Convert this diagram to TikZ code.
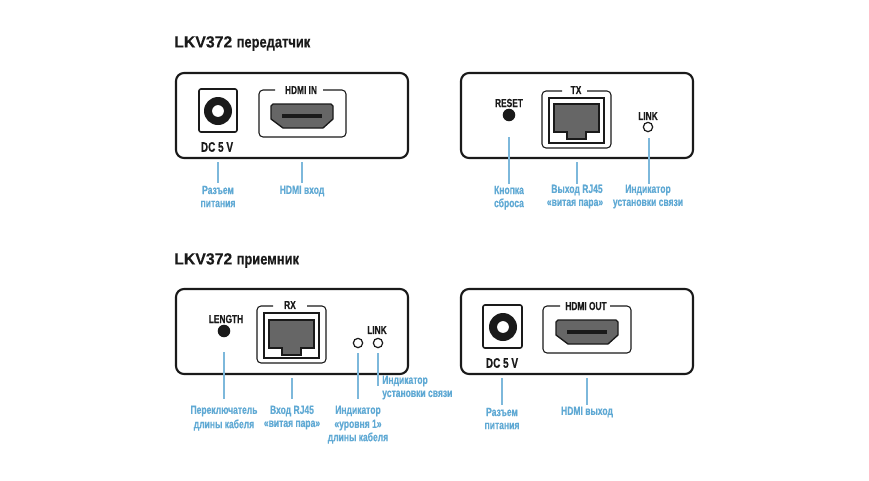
\documentclass[tikz,border=0pt]{standalone}
\usepackage{fontspec}
\setmainfont{Liberation Sans}
\newfontfamily\cnb[FakeStretch=0.72,FakeBold=0.35]{Liberation Sans Bold}
\newfontfamily\cnt[FakeStretch=0.80,FakeBold=0.35]{Liberation Sans Bold}
\newfontfamily\wid[FakeStretch=0.98,FakeBold=0.25]{Liberation Sans Bold}
\definecolor{lineblue}{HTML}{7DB8DB}
\definecolor{textblue}{HTML}{5FA9D4}
\definecolor{portgray}{HTML}{666666}
\definecolor{ink}{HTML}{1A1A1A}
\tikzset{
  panel/.style={draw=ink,line width=1.6pt,rounded corners=6pt,fill=white},
  framebox/.style={draw=ink,line width=0.8pt,rounded corners=3pt},
  jackbox/.style={draw=ink,line width=1.2pt,rounded corners=1.5pt},
  innerbox/.style={draw=ink,line width=0.8pt},
  portshape/.style={draw=ink,line width=1pt,fill=portgray},
  plabel/.style={font=\cnb\fontsize{8.7}{10}\selectfont,text=ink,inner sep=0pt,anchor=center},
  dclabel/.style={font=\cnb\fontsize{10.4}{12}\selectfont,text=ink,inner sep=0pt,anchor=center},
  callout/.style={font=\cnb\fontsize{8.9}{10}\selectfont,text=textblue,inner sep=0pt,anchor=center},
  leader/.style={draw=lineblue,line width=0.85pt},
  title/.style={text=ink,inner sep=0pt,anchor=west},
  led/.style={circle,draw=ink,line width=0.9pt,fill=white,minimum size=7pt,inner sep=0pt},
  button/.style={circle,fill=ink,minimum size=9.4pt,inner sep=0pt},
  jack/.style={circle,fill=ink,minimum size=21pt,inner sep=0pt},
  jackhole/.style={circle,fill=white,minimum size=8.8pt,inner sep=0pt}
}
\newcommand{\hdmiport}[2]{% left x, top y
  \draw[portshape,line join=round] (#1,#2+2) -- (#1+2,#2) -- (#1+60,#2) -- (#1+62,#2+2) -- (#1+62,#2+15) -- (#1+52,#2+24) -- (#1+12,#2+24) -- (#1,#2+15) -- cycle;
  \fill[ink] (#1+11,#2+10) rectangle (#1+51,#2+14);
}
\newcommand{\rjport}[2]{% left x, top y
  \draw[portshape,line width=1.2pt] (#1,#2) -- (#1+45,#2) -- (#1+45,#2+28) -- (#1+32,#2+28) -- (#1+32,#2+35) -- (#1+13,#2+35) -- (#1+13,#2+28) -- (#1,#2+28) -- cycle;
}
\newcommand{\leaderline}[4]{% name x y1 y2
  \coordinate (#1a) at (#2,#3);
  \coordinate (#1b) at (#2,#4);
  \draw[leader] (#1a) -- (#1b);
}
\begin{document}
\begin{tikzpicture}[x=0.75pt,y=-0.75pt]
\useasboundingbox (0,0) rectangle (869,480);
\fill[white] (0,0) rectangle (869,480);
% titles
\node[title] (t1) at (174,43.5) {\wid\fontsize{12.1}{14}\selectfont LKV372 \cnt\fontsize{12.1}{14}\selectfont передатчик};
\node[title] (t2) at (174,260.5) {\wid\fontsize{12.1}{14}\selectfont LKV372 \cnt\fontsize{12.1}{14}\selectfont приемник};
% panels
\draw[panel] (176,73) rectangle (408,158);
\draw[panel] (461,73) rectangle (693,158);
\draw[panel] (176,289) rectangle (408,374);
\draw[panel] (461,289) rectangle (693,374);
% panel 1
\draw[jackbox] (199,89) rectangle (237,132);
\node[jack] (j1) at (218,111) {};
\node[jackhole] (j1h) at (218,111) {};
\node[dclabel] (dc1) at (217,147) {DC 5 V};
\draw[framebox] (275,90) -- (259,90) -- (259,137) -- (346,137) -- (346,90) -- (323,90);
\node[plabel] (hi) at (301,90) {HDMI IN};
\hdmiport{271}{104}
% panel 2
\node[plabel] (rs) at (509,103) {RESET};
\node[button] (rsb) at (509,115) {};
\draw[framebox] (562,91) -- (542,91) -- (542,148) -- (611,148) -- (611,91) -- (587,91);
\draw[innerbox] (549,98) rectangle (604,143);
\node[plabel] (tx) at (576,90) {TX};
\rjport{554}{104}
\node[plabel] (lk1) at (648,116) {LINK};
\node[led] (lk1l) at (648,127) {};
% panel 3
\node[plabel] (ln) at (226,319) {LENGTH};
\node[button] (lnb) at (224,331) {};
\draw[framebox] (273,306) -- (257,306) -- (257,363) -- (326,363) -- (326,306) -- (307,306);
\draw[innerbox] (264,313) rectangle (319,358);
\node[plabel] (rx) at (290,305) {RX};
\rjport{269}{320}
\node[led] (l1) at (358,343) {};
\node[led] (l2) at (378,343) {};
\node[plabel] (lk2) at (377,330) {LINK};
% panel 4
\draw[jackbox] (483,305) rectangle (522,348);
\node[jack] (j2) at (503,327) {};
\node[jackhole] (j2h) at (503,327) {};
\node[dclabel] (dc2) at (502,363) {DC 5 V};
\draw[framebox] (560,306) -- (543,306) -- (543,353) -- (631,353) -- (631,306) -- (610,306);
\node[plabel] (ho) at (586,306) {HDMI OUT};
\hdmiport{556}{320}
% leaders
\leaderline{a}{218}{162}{183}
\leaderline{b}{302}{162}{183}
\leaderline{c}{509}{137}{184}
\leaderline{d}{577}{162}{184}
\leaderline{e}{649}{138}{184}
\leaderline{f}{224}{352}{399}
\leaderline{g}{292}{378}{399}
\leaderline{h}{358}{353}{399}
\leaderline{i}{378}{353}{386}
\leaderline{k}{502}{378}{405}
\leaderline{m}{587}{378}{405}
% callouts
\node[callout] (ca1) at (218,190) {Разъем};
\node[callout] (ca2) at (218,204) {питания};
\node[callout] (cb) at (302,191) {HDMI вход};
\node[callout] (cc1) at (509,190) {Кнопка};
\node[callout] (cc2) at (509,204) {сброса};
\node[callout] (cd1) at (577,190) {Выход RJ45};
\node[callout] (cd2) at (575,204) {«витая пара»};
\node[callout] (ce1) at (648,190) {Индикатор};
\node[callout] (ce2) at (648,204) {установки связи};
\node[callout] (cf1) at (224,411) {Переключатель};
\node[callout] (cf2) at (224,425) {длины кабеля};
\node[callout] (cg1) at (292,411) {Вход RJ45};
\node[callout] (cg2) at (292,425) {«витая пара»};
\node[callout] (ch1) at (358,411) {Индикатор};
\node[callout] (ch2) at (358,425) {«уровня 1»};
\node[callout] (ch3) at (358,438) {длины кабеля};
\node[callout,anchor=west] (ci1) at (382,381) {Индикатор};
\node[callout,anchor=west] (ci2) at (382,395) {установки связи};
\node[callout] (ck1) at (502,412) {Разъем};
\node[callout] (ck2) at (502,426) {питания};
\node[callout] (cm) at (587,412) {HDMI выход};
\end{tikzpicture}
\end{document}
